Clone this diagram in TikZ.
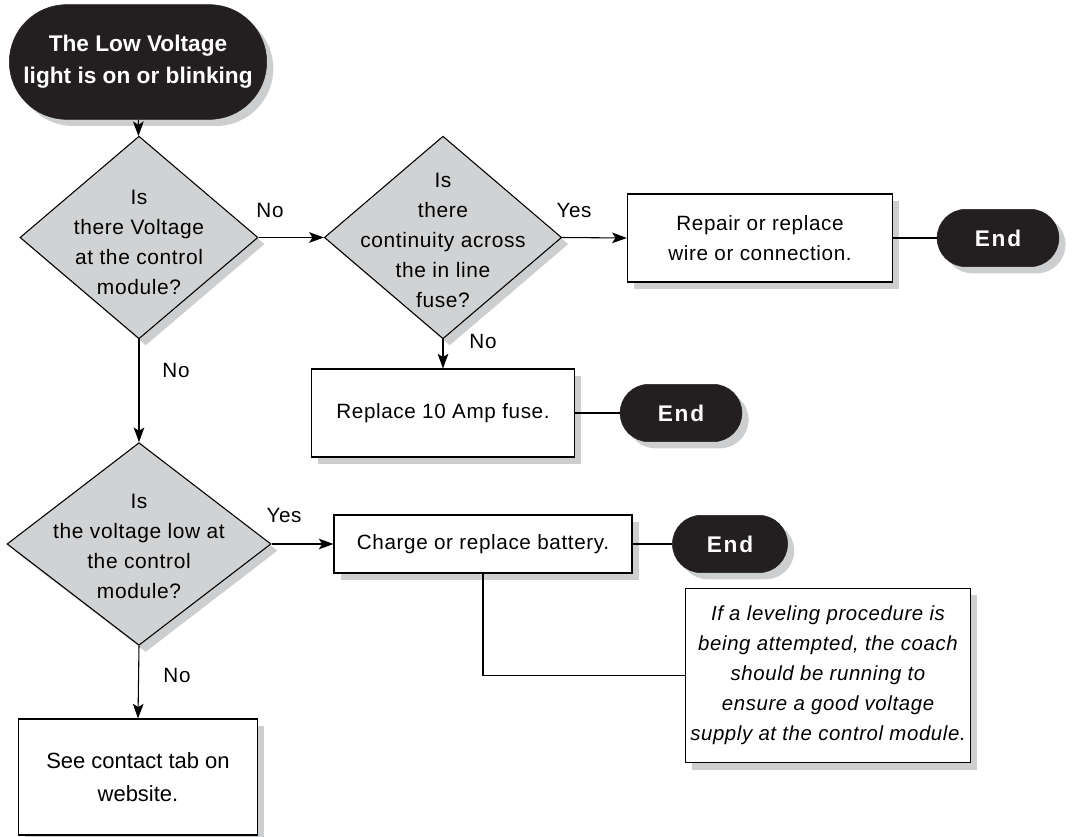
\documentclass[tikz,border=0pt]{standalone}
\usepackage{fontspec}
\setmainfont{Liberation Sans}
\newfontfamily\trackfont[LetterSpace=3]{Liberation Sans}
\newfontfamily\endfont[LetterSpace=8]{Liberation Sans}
\usetikzlibrary{shapes,shapes.geometric,shapes.misc,arrows.meta,positioning,shadows}

\definecolor{termfill}{HTML}{231F20}
\definecolor{decfill}{HTML}{D1D2D4}
\definecolor{shadowgray}{HTML}{CDCED0}

\tikzset{
    boxshadow/.style={drop shadow={shadow xshift=5pt, shadow yshift=-5pt, fill=shadowgray, opacity=1}},
    term/.style={rounded rectangle, draw=termfill, fill=termfill, text=white, boxshadow},
    endterm/.style={term, minimum width=98pt, minimum height=43pt, font=\endfont\bfseries\fontsize{17}{20}\selectfont},
    dec/.style={diamond, draw, line width=0.8pt, fill=decfill, boxshadow, inner sep=0pt},
    qtext/.style={align=center, font=\trackfont\fontsize{15.7}{22.5}\selectfont},
    act/.style={rectangle, draw, line width=0.8pt, fill=white, boxshadow, align=center, font=\trackfont\fontsize{15.5}{23}\selectfont},
    conn/.style={line width=0.8pt},
    arr/.style={conn, -{Stealth[length=11pt, width=8pt, inset=2.5pt]}},
    lbl/.style={font=\trackfont\fontsize{15.5}{18}\selectfont}
}

\begin{document}
\begin{tikzpicture}[x=0.75pt, y=-0.75pt]
    \useasboundingbox (0,0) rectangle (1075,837);

    % Start
    \node[term, minimum width=197pt, minimum height=86pt, inner sep=2pt, align=center,
          font=\bfseries\fontsize{17}{24}\selectfont] (start) at (138,62)
        {The Low Voltage\\light is on or blinking};

    % Decisions
    \node[dec, minimum width=178.5pt, minimum height=152pt,
          label={[qtext, yshift=-4pt]center:{Is\\there Voltage\\at the control\\module?}}] (volt) at (139,237.5) {};
    \node[dec, minimum width=178pt, minimum height=152pt,
          label={[qtext, yshift=-2pt]center:{Is\\there\\continuity across\\the in line\\fuse?}}] (fusechk) at (443,237.5) {};
    \node[dec, minimum width=198pt, minimum height=152pt,
          label={[qtext, yshift=-2pt]center:{Is\\the voltage low at\\the control\\module?}}] (low) at (139,544) {};

    % Actions
    \node[act, minimum width=199pt, minimum height=66pt] (repair) at (760,238) {Repair or replace\\wire or connection.};
    \node[act, minimum width=197pt, minimum height=66pt] (fuse) at (443,413) {Replace 10 Amp fuse.};
    \node[act, minimum width=223.5pt, minimum height=43.5pt] (battery) at (483,544) {Charge or replace battery.};
    \node[act, minimum width=205pt, minimum height=131pt, font=\trackfont\itshape\fontsize{15.3}{22.5}\selectfont] (note) at (828,675.5)
        {If a leveling procedure is\\being attempted, the coach\\should be running to\\ensure a good voltage\\supply at the control module.};
    \node[act, minimum width=179pt, minimum height=87pt, font=\fontsize{16.5}{25}\selectfont] (contact) at (138,777) {See contact tab on\\website.};

    % End terminals
    \node[endterm] (endA) at (998,238) {End};
    \node[endterm] (endB) at (681,413) {End};
    \node[endterm, minimum width=93pt] (endC) at (730,544) {End};

    % Connectors
    \draw[arr] (start) -- (volt);
    \draw[arr] (volt.east) -- (fusechk.west);
    \draw[arr] (fusechk.east) -- (repair.west);
    \draw[conn] (repair) -- (endA);
    \draw[arr] (fusechk.south) -- (fuse.north);
    \draw[conn] (fuse) -- (endB);
    \draw[arr] (volt.south) -- (low.north);
    \draw[arr] (low.east) -- (battery.west);
    \draw[conn] (battery) -- (endC);
    \draw[conn] (battery.south) |- (note.west);
    \draw[arr] (low.south) -- (contact.north);

    % Labels
    \node[lbl] (noA) at (270,210) {No};
    \node[lbl] (yesA) at (574,210) {Yes};
    \node[lbl] (noB) at (483,341) {No};
    \node[lbl] (noC) at (176,370) {No};
    \node[lbl] (yesB) at (284,515) {Yes};
    \node[lbl] (noD) at (177,675) {No};
\end{tikzpicture}
\end{document}
